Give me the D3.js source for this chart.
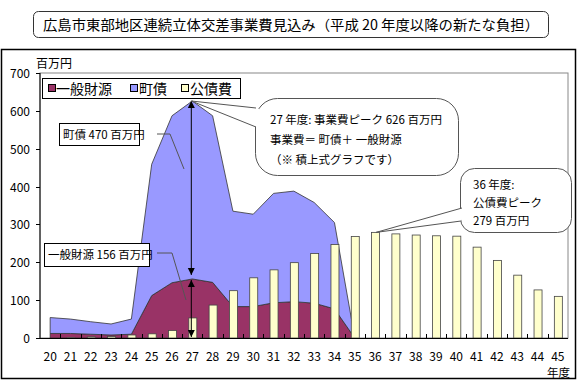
<!DOCTYPE html>
<html><head><meta charset="utf-8">
<script src="https://cdn.jsdelivr.net/npm/d3@7/dist/d3.min.js"></script>
<style>
html,body{margin:0;padding:0;background:#fff;}
svg text{font-family:"Noto Sans CJK JP","Noto Sans",sans-serif;fill:#000;}
</style></head>
<body>
<svg id="c" width="577" height="390"></svg>
<script>
// ---- data ----
const years = ["20","21","22","23","24","25","26","27","28","29","30","31","32","33","34","35","36","37","38","39","40","41","42","43","44","45"];
const ippanZaigen = [12,12,10,8,10,112,146,156,147,83,83,93,96,92,77,0,null,null,null,null,null,null,null,null,null,null];
const chosai      = [42,38,33,29,40,347,441,470,440,252,244,289,292,266,228,0,null,null,null,null,null,null,null,null,null,null];
const kosaihi     = [0,1,3,4,8,11,20,53,87,125,159,180,199,223,247,268,279,275,272,270,269,240,205,166,127,110];
const yTicks = [0,100,200,300,400,500,600,700];
const seriesNames = ["一般財源","町債","公債費"];
const colors = ["#993366","#9999FF","#FFFFCC"];
const titleText = "広島市東部地区連続立体交差事業費見込み（平成 20 年度以降の新たな負担）";

const svg = d3.select("#c");
const L = 40, R = 568, T = 73, B = 338;

// title box
svg.append("rect").attr("x",33.5).attr("y",11.5).attr("width",515).attr("height",26).attr("rx",5)
  .attr("fill","#fff").attr("stroke","#333").attr("stroke-width",1);
svg.append("text").attr("x",291).attr("y",30).attr("text-anchor","middle")
  .attr("font-size",14).attr("textLength",496).attr("lengthAdjust","spacingAndGlyphs").text(titleText);

// outer frame
svg.append("rect").attr("x",1.5).attr("y",49.5).attr("width",574).attr("height",329)
  .attr("fill","#fff").attr("stroke","#000").attr("stroke-width",1.5);

const x = d3.scaleBand().domain(years).range([L,R]).padding(0);
const y = d3.scaleLinear().domain([0,700]).range([B,T]);
const cx = d => x(d) + x.bandwidth()/2;

// plot area border
svg.append("rect").attr("x",L).attr("y",T).attr("width",R-L).attr("height",B-T)
  .attr("fill","#fff").attr("stroke","#888").attr("stroke-width",1);

// stacked area
const rows = years.map((yr,i)=>({yr, a:ippanZaigen[i], b:chosai[i]})).filter(d=>d.a!==null);
const stack = d3.stack().keys(["a","b"])(rows);
const area = d3.area().x(d=>cx(d.data.yr)).y0(d=>y(d[0])).y1(d=>y(d[1]));
svg.append("g").selectAll("path").data(stack).join("path")
  .attr("d",area).attr("fill",(d,i)=>colors[i]).attr("stroke","#333").attr("stroke-width",0.8);

// bars
const bw = 8;
svg.append("g").selectAll("rect").data(years.map((yr,i)=>({yr,v:kosaihi[i]}))).join("rect")
  .attr("x",d=>cx(d.yr)-bw/2+0.5).attr("y",d=>y(d.v)).attr("width",bw).attr("height",d=>B-y(d.v))
  .attr("fill",colors[2]).attr("stroke","#444").attr("stroke-width",0.8);

// axes
svg.append("line").attr("x1",L).attr("x2",L).attr("y1",T).attr("y2",B).attr("stroke","#000");
svg.append("line").attr("x1",L).attr("x2",R).attr("y1",B+0.5).attr("y2",B+0.5).attr("stroke","#000");
svg.append("g").selectAll("line").data(yTicks).join("line")
  .attr("x1",L-4).attr("x2",L).attr("y1",d=>Math.round(y(d))+0.5).attr("y2",d=>Math.round(y(d))+0.5).attr("stroke","#000");
svg.append("g").selectAll("text").data(yTicks).join("text")
  .attr("x",30).attr("y",d=>y(d)+5).attr("text-anchor","end").attr("font-size",12).text(d=>d);
svg.append("g").selectAll("line").data(years.slice(1)).join("line")
  .attr("x1",d=>Math.round(x(d))+0.5).attr("x2",d=>Math.round(x(d))+0.5).attr("y1",B-4).attr("y2",B).attr("stroke","#000");
svg.append("g").selectAll("text").data(years).join("text")
  .attr("x",d=>cx(d)).attr("y",361).attr("text-anchor","middle").attr("font-size",12).text(d=>d);
svg.append("text").attr("x",570).attr("y",377).attr("text-anchor","end").attr("font-size",11.5).text("年度");
svg.append("text").attr("x",36).attr("y",68).attr("font-size",12).text("百万円");

// legend
svg.append("rect").attr("x",42.5).attr("y",78.5).attr("width",198).attr("height",20).attr("fill","#fff").attr("stroke","#000");
const lx = [48,130,181], tx=[56,139,190];
seriesNames.forEach((n,i)=>{
  svg.append("rect").attr("x",lx[i]+0.5).attr("y",84.5).attr("width",7).attr("height",7).attr("fill",colors[i]).attr("stroke","#000");
  svg.append("text").attr("x",tx[i]).attr("y",94).attr("font-size",14).text(n);
});

// arrows
const defs = svg.append("defs");
defs.append("marker").attr("id","ah").attr("viewBox","0 0 10 10").attr("refX",10).attr("refY",5)
  .attr("markerWidth",7).attr("markerHeight",9).attr("orient","auto-start-reverse")
  .append("path").attr("d","M0,0L10,5L0,10z").attr("fill","#000");
const ax = cx("27")-1;
svg.append("line").attr("x1",ax).attr("x2",ax).attr("y1",y(626)).attr("y2",y(156)-4)
  .attr("stroke","#000").attr("marker-start","url(#ah)").attr("marker-end","url(#ah)");
svg.append("line").attr("x1",ax).attr("x2",ax).attr("y1",y(156)+1).attr("y2",B-1)
  .attr("stroke","#000").attr("marker-start","url(#ah)").attr("marker-end","url(#ah)");

// callout boxes
function box(x0,y0,w,h,txt,lead){
  svg.append("rect").attr("x",x0+0.5).attr("y",y0+0.5).attr("width",w).attr("height",h).attr("fill","#fff").attr("stroke","#000");
  svg.append("text").attr("x",x0+4).attr("y",y0+h/2+4.5).attr("font-size",11.5).text(txt);
  svg.append("path").attr("d",d3.line()(lead)).attr("fill","none").attr("stroke","#555").attr("stroke-width",1);
}
box(59,123,80,22,"町債 470 百万円",[[157,134],[170,134],[184,169]]);
box(44,243,105,23,"一般財源 156 百万円",[[157,253],[172,253],[186,300]]);

function bubble(x0,y0,w,h,r,tip,b1,b2,lines,tx0,ty0,dy){
  svg.append("rect").attr("x",x0+0.5).attr("y",y0+0.5).attr("width",w).attr("height",h).attr("rx",r)
    .attr("fill","#fff").attr("stroke","#555").attr("stroke-width",1);
  svg.append("path").attr("d",`M${b1[0]},${b1[1]}L${tip[0]},${tip[1]}L${b2[0]},${b2[1]}`)
    .attr("fill","#fff").attr("stroke","#555").attr("stroke-width",1);
  svg.append("path").attr("d",`M${b1[0]+1.5},${b1[1]+1}L${b2[0]+1.5},${b2[1]-1}`).attr("stroke","#fff").attr("stroke-width",3);
  lines.forEach((t,i)=>svg.append("text").attr("x",tx0).attr("y",ty0+i*dy).attr("font-size",11.5).text(t));
}
bubble(255,98,203,77,22,[cx("27")-1,y(626)],[256,108],[256,127],
  ["27 年度: 事業費ピーク 626 百万円","事業費＝ 町債＋ 一般財源","（※ 積上式グラフです）"],270,124,20);
bubble(460,168,111,64,14,[cx("36")+1,y(279)],[462,208],[461,221],
  ["36 年度:","公債費ピーク","279 百万円"],473,189,18);
</script>
</body></html>
